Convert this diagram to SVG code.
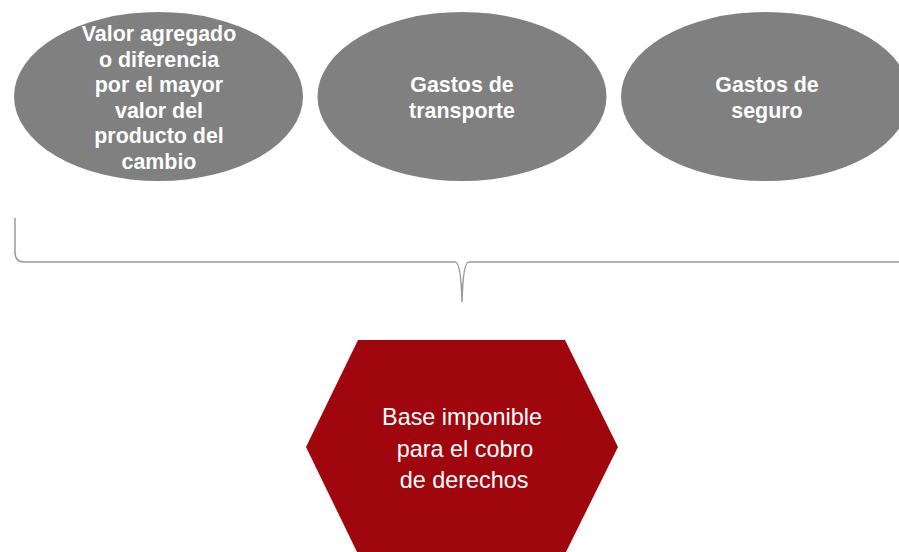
<svg xmlns="http://www.w3.org/2000/svg" width="899" height="552" viewBox="0 0 899 552">
<style>
.ell{fill:#808080;}
.et{font-family:"Liberation Sans",Arial,sans-serif;font-weight:bold;font-size:21.4px;fill:#ffffff;text-anchor:middle;}
.ht{font-family:"Liberation Sans",Arial,sans-serif;font-size:23.4px;fill:#ffffff;text-anchor:middle;}
.brace{fill:none;stroke:#9a9a9a;stroke-width:1.5;}
</style>
<rect width="899" height="552" fill="#ffffff"/>
<g id="node-valor">
<ellipse class="ell" cx="158.5" cy="96.5" rx="144.5" ry="84.5"/>
<text class="et" x="159" y="41">Valor agregado</text>
<text class="et" x="159" y="66.5">o diferencia</text>
<text class="et" x="159" y="92">por el mayor</text>
<text class="et" x="159" y="117.5">valor del</text>
<text class="et" x="159" y="143">producto del</text>
<text class="et" x="159" y="168.5">cambio</text>
</g>
<g id="node-transporte">
<ellipse class="ell" cx="462" cy="96.5" rx="144.5" ry="84.5"/>
<text class="et" x="462" y="92">Gastos de</text>
<text class="et" x="462" y="117.5">transporte</text>
</g>
<g id="node-seguro">
<ellipse class="ell" cx="765.5" cy="96.5" rx="144.5" ry="84.5"/>
<text class="et" x="767" y="92">Gastos de</text>
<text class="et" x="767" y="117.5">seguro</text>
</g>
<g id="connectors">
<path class="brace" d="M15,218 L15,252 Q15,262 24,262 L455,262 Q461,262 462,302 Q463,262 469,262 L900,262"/>
</g>
<g id="node-base">
<polygon points="358,340 565,340 618,447 565,554 358,554 306,447" fill="#9F060D"/>
<text class="ht" x="462" y="425">Base imponible</text>
<text class="ht" x="465" y="457">para el cobro</text>
<text class="ht" x="464" y="488">de derechos</text>
</g>
</svg>
